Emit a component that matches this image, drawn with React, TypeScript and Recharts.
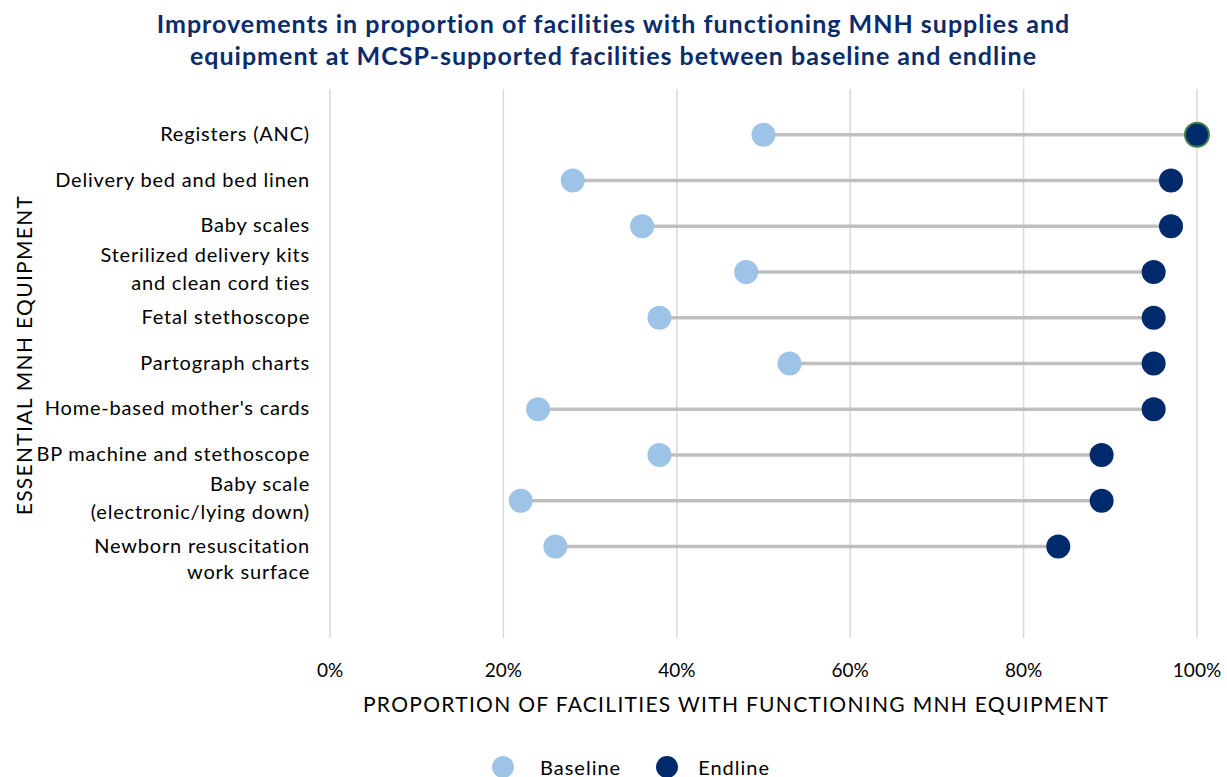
import React from 'react';
import { ScatterChart, Scatter, XAxis, YAxis, CartesianGrid, ReferenceLine } from 'recharts';

const categories = [
  'Registers (ANC)',
  'Delivery bed and bed linen',
  'Baby scales',
  'Sterilized delivery kits\nand clean cord ties',
  'Fetal stethoscope',
  'Partograph charts',
  "Home-based mother's cards",
  'BP machine and stethoscope',
  'Baby scale\n(electronic/lying down)',
  'Newborn resuscitation\nwork surface',
];
const baseline = [50, 28, 36, 48, 38, 53, 24, 38, 22, 26];
const endline = [100, 97, 97, 95, 95, 95, 95, 89, 89, 84];
const xTicks = [0, 20, 40, 60, 80, 100];

const BASE_COLOR = '#9DC3E6';
const END_COLOR = '#002A6C';
const FONT = 'Lato, "Open Sans", sans-serif';

// rows sit at y = 11 .. 2 on a 0..12 scale (Excel-style scatter)
const rowPos = (i: number) => 11 - i;
const yTicks = categories.map((_, i) => rowPos(i));

const baseData = baseline.map((v, i) => ({ x: v, y: rowPos(i), idx: i }));
const endData = endline.map((v, i) => ({ x: v, y: rowPos(i), idx: i }));

const CategoryTick = (props: any) => {
  const { x, y, payload } = props;
  const i = 11 - payload.value;
  const lines = (categories[i] || '').split('\n');
  const last = i === categories.length - 1;
  const lh = last ? 26 : 28;
  // two-line labels straddle the row, except the bottom one which hangs below it
  const start = lines.length > 1 && !last ? -16 : 0;
  return (
    <text x={x - 12} y={y} textAnchor="end" fontFamily={FONT} fontSize={20} letterSpacing={0.8} fill="#000">
      {lines.map((l, k) => (
        <tspan key={k} x={x - 12} dy={k === 0 ? start + 6 : lh}>
          {l}
        </tspan>
      ))}
    </text>
  );
};

const dot = (color: string) => (p: any) => {
  const green = color === END_COLOR && p.payload && p.payload.idx === 0;
  return (
    <circle
      cx={p.cx}
      cy={p.cy}
      r={12}
      fill={color}
      stroke={green ? '#3E7F4A' : 'none'}
      strokeWidth={green ? 2 : 0}
    />
  );
};

const axisTitle: React.CSSProperties = {
  position: 'absolute',
  whiteSpace: 'nowrap',
  fontSize: 21,
  letterSpacing: 1.3,
};

export default function App() {
  return (
    <div style={{ position: 'relative', width: 1227, height: 777, background: '#fff', fontFamily: FONT }}>
      <style>{'body{margin:0}'}</style>
      <div
        style={{
          position: 'absolute',
          top: 7,
          left: 0,
          width: 1227,
          textAlign: 'center',
          color: '#0B2C6B',
          fontWeight: 'bold',
          fontSize: 25,
          letterSpacing: 1,
          lineHeight: '32px',
        }}
      >
        Improvements in proportion of facilities with functioning MNH supplies and
        <br />
        equipment at MCSP-supported facilities between baseline and endline
      </div>
      <div style={{ ...axisTitle, left: 23, top: 355, transform: 'translate(-50%, -50%) rotate(-90deg)' }}>
        ESSENTIAL MNH EQUIPMENT
      </div>
      <div style={{ ...axisTitle, left: 736, top: 703, transform: 'translate(-50%, -50%)' }}>
        PROPORTION OF FACILITIES WITH FUNCTIONING MNH EQUIPMENT
      </div>
      <div
        style={{
          position: 'absolute',
          top: 756,
          left: 492,
          display: 'flex',
          alignItems: 'center',
          fontSize: 20,
          letterSpacing: 1,
          lineHeight: '22px',
        }}
      >
        <span style={{ display: 'inline-block', width: 22, height: 22, borderRadius: 11, background: BASE_COLOR }} />
        <span style={{ marginLeft: 26 }}>Baseline</span>
        <span style={{ display: 'inline-block', width: 22, height: 22, borderRadius: 11, background: END_COLOR, marginLeft: 35 }} />
        <span style={{ marginLeft: 20 }}>Endline</span>
      </div>
      <ScatterChart width={1227} height={777} margin={{ top: 89, right: 30, left: 10, bottom: 79 }}>
        <CartesianGrid horizontal={false} stroke="#D9D9D9" strokeWidth={1.5} />
        <XAxis
          type="number"
          dataKey="x"
          domain={[0, 100]}
          ticks={xTicks}
          tickFormatter={(v) => `${v}%`}
          axisLine={false}
          tickLine={false}
          tickMargin={20}
          height={60}
          tick={{ fontFamily: FONT, fontSize: 19, fill: '#000' }}
        />
        <YAxis
          type="number"
          dataKey="y"
          domain={[0, 12]}
          ticks={yTicks}
          axisLine={false}
          tickLine={false}
          width={320}
          tick={<CategoryTick />}
          interval={0}
        />
        {categories.map((c, i) => (
          <ReferenceLine
            key={c}
            segment={[
              { x: baseline[i], y: rowPos(i) },
              { x: endline[i], y: rowPos(i) },
            ]}
            stroke="#BFBFBF"
            strokeWidth={3.5}
          />
        ))}
        <Scatter name="Baseline" data={baseData} fill={BASE_COLOR} shape={dot(BASE_COLOR)} isAnimationActive={false} />
        <Scatter name="Endline" data={endData} fill={END_COLOR} shape={dot(END_COLOR)} isAnimationActive={false} />
      </ScatterChart>
    </div>
  );
}
